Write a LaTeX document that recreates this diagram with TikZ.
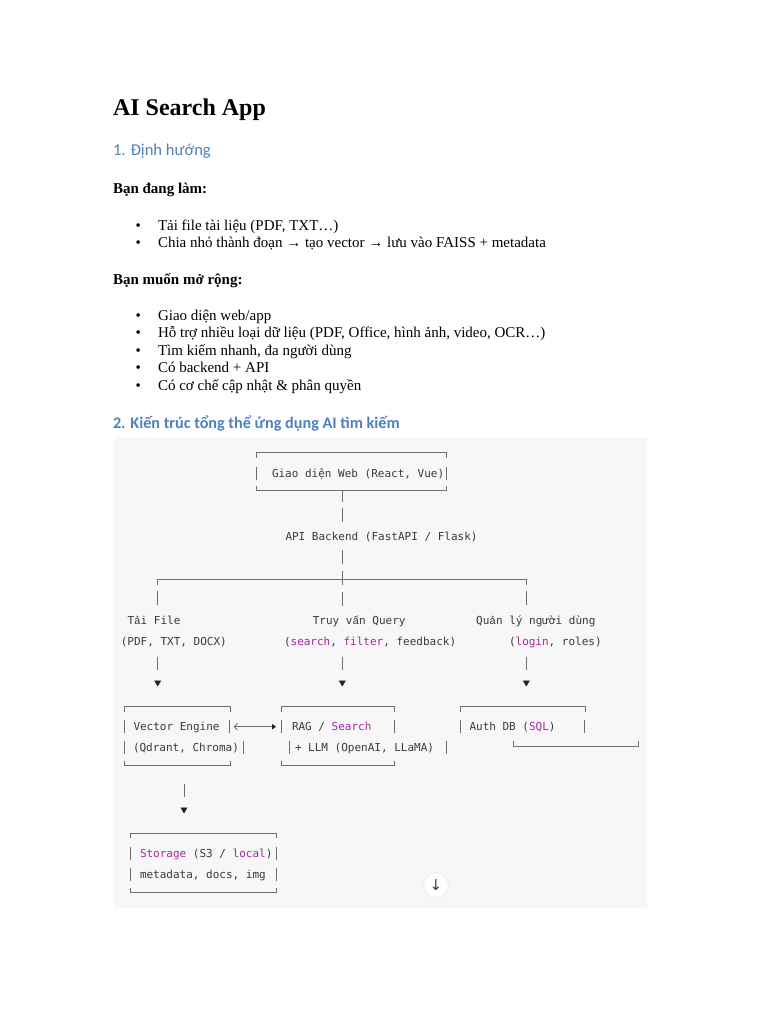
\documentclass[tikz,border=0pt]{standalone}
\usepackage{fontspec}
\setmainfont{Liberation Serif}
\newfontfamily\carlito{Carlito}
\newfontfamily\dmono{DejaVu Sans Mono}
\newfontfamily\lmono{Liberation Mono}
\newfontfamily\dsans{DejaVu Sans}
\usetikzlibrary{arrows.meta}
\definecolor{headblue}{HTML}{4F81BD}
\definecolor{bggray}{HTML}{F7F7F7}
\definecolor{monotext}{HTML}{383A42}
\definecolor{kw}{HTML}{A626A4}
\definecolor{framegray}{HTML}{6E6E6E}
\definecolor{arrowdark}{HTML}{222222}
\newcommand\asciiframe[1]{%
  \draw[frame] ([yshift=-5pt]#1.north west) -- (#1.north west) -- (#1.north east) -- ([yshift=-5pt]#1.north east);
  \draw[frame] ([yshift=4.5pt]#1.south west) -- (#1.south west) -- (#1.south east) -- ([yshift=4.5pt]#1.south east);}
\newcommand\sidebar[2]{\draw[frame] (#1,#2-6.5) -- (#1,#2+6.5);}
\begin{document}
\begin{tikzpicture}[x=1pt,y=-1pt,
  every node/.style={inner sep=0pt, outer sep=0pt},
  titletext/.style={anchor=base west, font=\bfseries\fontsize{24}{28}\selectfont},
  headtext/.style={anchor=base west, text=headblue, font=\carlito\fontsize{16.6}{20}\selectfont},
  leadtext/.style={anchor=base west, font=\bfseries\fontsize{15}{18}\selectfont},
  bodytext/.style={anchor=base west, font=\fontsize{15}{18}\selectfont},
  mono/.style={anchor=base west, text=monotext, font=\dmono\fontsize{11}{13}\selectfont},
  frame/.style={draw=framegray, line width=0.8pt},
  boxarea/.style={draw=none, rectangle},
  downtip/.style={frame, dash pattern=on 13pt off 40pt, -{Triangle[length=6pt,width=6.8pt,color=arrowdark]}}
]
\fill[white] (0,0) rectangle (768,1024);
\useasboundingbox (0,0) rectangle (768,1024);

% ---- text part ----
\node[titletext] (title) at (113,116) {AI Search App};
\node[headtext] (h1) at (113,155.7) {1. Định hướng};
\node[leadtext] (lead1) at (113,194) {Bạn đang làm:};
\node[bodytext] (d1) at (135.6,230) {•};
\node[bodytext] (t1) at (158,230) {Tải file tài liệu (PDF, TXT…)};
\node[bodytext] (d2) at (135.6,247.5) {•};
\node[bodytext] (t2) at (158,247.5) {Chia nhỏ thành đoạn → tạo vector → lưu vào FAISS + metadata};
\node[leadtext] (lead2) at (113,284) {Bạn muốn mở rộng:};
\node[bodytext] (d3) at (135.6,320) {•};
\node[bodytext] (t3) at (158,320) {Giao diện web/app};
\node[bodytext] (d4) at (135.6,337.5) {•};
\node[bodytext] (t4) at (158,337.5) {Hỗ trợ nhiều loại dữ liệu (PDF, Office, hình ảnh, video, OCR…)};
\node[bodytext] (d5) at (135.6,355) {•};
\node[bodytext] (t5) at (158,355) {Tìm kiếm nhanh, đa người dùng};
\node[bodytext] (d6) at (135.6,372.5) {•};
\node[bodytext] (t6) at (158,372.5) {Có backend + API};
\node[bodytext] (d7) at (135.6,390.5) {•};
\node[bodytext] (t7) at (158,390.5) {Có cơ chế cập nhật \& phân quyền};
\node[headtext, font=\carlito\bfseries\fontsize{16.2}{20}\selectfont] (h2) at (113,428.3) {2. Kiến trúc tổng thể ứng dụng AI tìm kiếm};

% ---- diagram panel ----
\fill[bggray] (113.5,436.5) rectangle (647,908);

% boxes
\node[boxarea, minimum width=190.5pt, minimum height=37.3pt] (web) at (351.25,471.35) {};
\node[boxarea, minimum width=106pt, minimum height=58.3pt] (vec) at (177,735.85) {};
\node[boxarea, minimum width=112.3pt, minimum height=58.3pt] (rag) at (337.85,735.85) {};
\node[boxarea, minimum width=125pt, minimum height=40pt] (auth) at (522.5,726.7) {};
\node[boxarea, minimum width=145.3pt, minimum height=59pt] (stor) at (203.35,862.8) {};
\asciiframe{web}
\asciiframe{vec}
\asciiframe{rag}
\asciiframe{stor}
\draw[frame] ([yshift=-5pt]auth.north west) -- (auth.north west) -- (auth.north east) -- ([yshift=-5pt]auth.north east);
\draw[frame] (513.3,740.5) -- (513.3,746.7) -- (638.3,746.7) -- (638.3,740.5);

% side bars
\sidebar{256}{473}\sidebar{446.5}{473}
\sidebar{124}{726.7}\sidebar{229.5}{726.7}
\sidebar{124}{747}\sidebar{243.3}{747}
\sidebar{281.7}{726.7}\sidebar{394}{726.7}
\sidebar{289.3}{747}\sidebar{446.7}{747}
\sidebar{460}{726.7}\sidebar{584.5}{726.7}
\sidebar{130.7}{853.3}\sidebar{276}{853.3}
\sidebar{130.7}{874.3}\sidebar{276}{874.3}

% texts
\node[mono] (webtxt) at (272,477) {Giao diện Web (React, Vue)};
\node[mono] (api) at (285.5,540.3) {API Backend (FastAPI / Flask)};
\node[mono] (file) at (127.5,624.8) {T{\lmono ả}i File};
\node[mono] (filesub) at (120.8,645.5) {(PDF, TXT, DOCX)};
\node[mono] (query) at (312.8,624.8) {Truy v{\lmono ấ}n Query};
\node[mono] (querysub) at (284,645.5) {(\textcolor{kw}{search}, \textcolor{kw}{filter}, feedback)};
\node[mono] (user) at (476.2,624.8) {Qu{\lmono ả}n lý người dùng};
\node[mono] (usersub) at (509,645.5) {(\textcolor{kw}{login}, roles)};
\node[mono] (vec1) at (133.5,730.7) {Vector Engine};
\node[mono] (vec2) at (133,751) {(Qdrant, Chroma)};
\node[mono] (rag1) at (292,730.7) {RAG / \textcolor{kw}{Search}};
\node[mono] (rag2) at (295,751) {+ LLM (OpenAI, LLaMA)};
\node[mono] (auth1) at (469.5,730.7) {Auth DB (\textcolor{kw}{SQL})};
\node[mono] (stor1) at (140,857.3) {\textcolor{kw}{Storage} (S3 / \textcolor{kw}{local})};
\node[mono] (stor2) at (140,878.3) {metadata, docs, img};

% connectors
\coordinate (webdrop) at (342,490);
\coordinate (apitop) at (342,529);
\draw[frame, dash pattern=on 11.7pt off 6.3pt on 14pt off 20pt] (webdrop) -- (apitop);
\coordinate (apibot) at (342,550);
\coordinate (querytop) at (342,606);
\draw[frame, dash pattern=on 14pt off 7pt] (apibot) -- (querytop);
\coordinate (forkL) at (157.7,579);
\coordinate (forkR) at (526.3,579);
\draw[frame] ([yshift=-6pt]forkL) -- (forkL) -- (forkR) -- ([yshift=-6pt]forkR);
\coordinate (filetop) at (157.7,605);
\coordinate (usertop) at (526.3,605);
\draw[frame] ([yshift=14pt]filetop) -- (filetop);
\draw[frame] ([yshift=14pt]usertop) -- (usertop);

\coordinate (filebot) at (157.7,657);
\coordinate (vectip) at (157.7,686.5);
\draw[downtip] (filebot) -- (vectip);
\coordinate (querybot) at (342.3,657);
\coordinate (ragtip) at (342.3,686.5);
\draw[downtip] (querybot) -- (ragtip);
\coordinate (userbot) at (526.3,657);
\coordinate (authtip) at (526.3,686.5);
\draw[downtip] (userbot) -- (authtip);

\coordinate (vecout) at (233.5,726.7);
\coordinate (ragin) at (276,726.7);
\draw[frame, {Straight Barb[length=3.5pt,width=6.5pt]}-{Triangle[length=4pt,width=5.5pt,color=arrowdark]}] (vecout) -- (ragin);

\coordinate (vecbot) at (184,783.5);
\coordinate (stortip) at (184,813.5);
\draw[downtip] (vecbot) -- (stortip);

% scroll button
\node[circle, draw=black!13, fill=white, minimum size=25pt, font=\dsans\fontsize{15}{15}\selectfont, text=black!75] (down) at (436,885) {↓};
\end{tikzpicture}
\end{document}
